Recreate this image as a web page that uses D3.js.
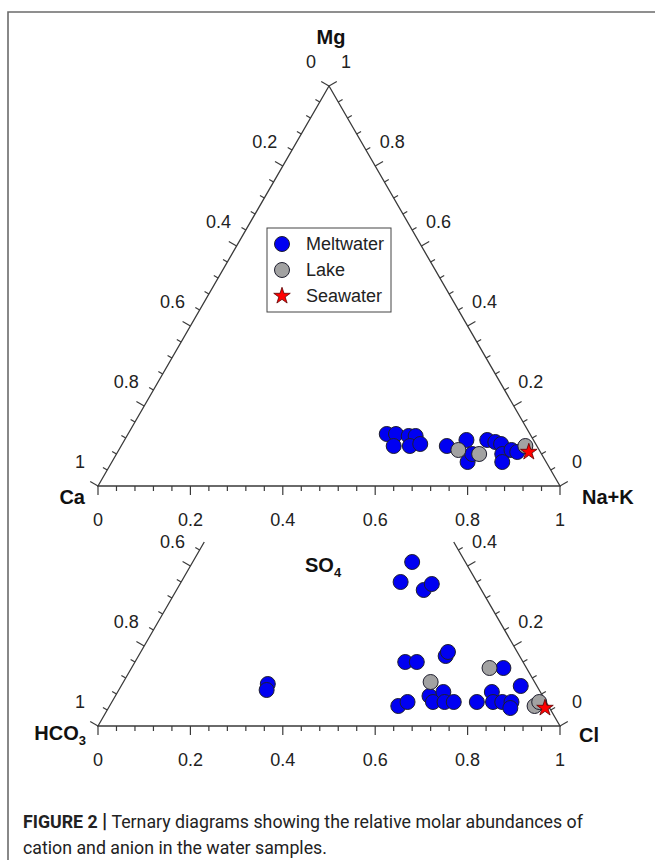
<!DOCTYPE html>
<html lang="en">
<head>
    <meta charset="UTF-8">
    <title>Ternary diagrams</title>
    <script src="https://cdnjs.cloudflare.com/ajax/libs/d3/7.8.5/d3.min.js"></script>
    <style>
        body { margin: 0; background: #fff; }
        svg { display: block; font-family: Arial, "Liberation Sans", sans-serif; }
        .tick-label { font-size: 18px; fill: #222; }
        .vertex { font-size: 20px; font-weight: bold; fill: #111; }
        .legend-text { font-size: 18px; fill: #222; }
    </style>
</head>
<body>
<script>
    // cation samples as [Ca, Mg, Na+K]
    const cationMeltwater = [
        [0.31, 0.13, 0.56], [0.29, 0.13, 0.58], [0.265, 0.125, 0.61], [0.25, 0.125, 0.625],
        [0.31, 0.10, 0.59], [0.275, 0.10, 0.625], [0.25, 0.105, 0.645], [0.195, 0.10, 0.705],
        [0.145, 0.115, 0.74], [0.17, 0.06, 0.77], [0.15, 0.08, 0.77], [0.10, 0.115, 0.785],
        [0.085, 0.11, 0.805], [0.075, 0.105, 0.82], [0.085, 0.08, 0.835], [0.095, 0.06, 0.845],
        [0.06, 0.09, 0.85], [0.05, 0.085, 0.865]
    ];
    const cationLake = [[0.175, 0.09, 0.735], [0.135, 0.08, 0.785], [0.025, 0.10, 0.875]];
    const cationSeawater = [[0.025, 0.085, 0.89]];

    // anion samples as [HCO3, SO4, Cl]
    const anionMeltwater = [
        [0.115, 0.41, 0.475], [0.165, 0.36, 0.475], [0.125, 0.34, 0.535], [0.10, 0.355, 0.545],
        [0.255, 0.16, 0.585], [0.23, 0.16, 0.61], [0.16, 0.175, 0.665], [0.15, 0.185, 0.665],
        [0.05, 0.145, 0.805], [0.035, 0.10, 0.865], [0.325, 0.05, 0.625], [0.30, 0.06, 0.64],
        [0.245, 0.075, 0.68], [0.245, 0.06, 0.695], [0.21, 0.085, 0.705], [0.22, 0.06, 0.72],
        [0.20, 0.06, 0.74], [0.15, 0.06, 0.79], [0.105, 0.085, 0.81], [0.115, 0.06, 0.825],
        [0.095, 0.06, 0.845], [0.075, 0.06, 0.865], [0.085, 0.045, 0.87],
        [0.58, 0.105, 0.315], [0.59, 0.09, 0.32]
    ];
    const anionLake = [[0.08, 0.145, 0.775], [0.225, 0.11, 0.665], [0.03, 0.05, 0.92], [0.015, 0.06, 0.925]];
    const anionSeawater = [[0.01, 0.045, 0.945]];

    const tickValues = d3.range(0, 1.0001, 0.04);
    const majorValues = [0, 0.2, 0.4, 0.6, 0.8, 1];
    const legendNames = ["Meltwater", "Lake", "Seawater"];

    const W = 655, H = 860;
    const svg = d3.select("body").append("svg").attr("width", W).attr("height", H);

    // frame
    svg.append("path").attr("d", `M8,${H} L8,12 L${W},12`)
        .attr("fill", "none").attr("stroke", "#6b6b6b").attr("stroke-width", 1.6);

    const star = d3.symbol().type(d3.symbolStar).size(85);
    const fmt = v => v === 0 ? "0" : v === 1 ? "1" : d3.format(".1f")(v);
    const isMajor = v => majorValues.some(m => Math.abs(m - v) < 1e-6);

    function ternary(base, maxTop) {
        const x = d3.scaleLinear().domain([0, 1]).range([98, 560]);
        const y = d3.scaleLinear().domain([0, 1]).range([base, base - 400]);
        const proj = (right, top) => [x(right + top / 2), y(top)];
        const g = svg.append("g");

        const line = d3.line();
        // sides
        g.append("path").attr("d", line([proj(0, maxTop), proj(0, 0), proj(1, 0), proj(1 - maxTop, maxTop)]))
            .attr("fill", "none").attr("stroke", "#3a3a3a").attr("stroke-width", 1.3);

        const sides = [
            // left side: value = left component, top = 1 - v
            { pt: v => proj(0, 1 - v), n: [-0.866, -0.5], off: [-18, -24], keep: v => 1 - v <= maxTop + 1e-6 },
            // right side: value = top component
            { pt: v => proj(1 - v, v), n: [0.866, -0.5], off: [17, -24], keep: v => v <= maxTop + 1e-6 },
            // bottom: value = right component
            { pt: v => proj(v, 0), n: [0, 1], off: [0, 34], keep: () => true }
        ];
        sides.forEach(s => {
            const vals = tickValues.filter(s.keep);
            g.append("g").selectAll("line").data(vals).join("line")
                .attr("x1", d => s.pt(d)[0]).attr("y1", d => s.pt(d)[1])
                .attr("x2", d => s.pt(d)[0] + s.n[0] * (isMajor(d) ? 9 : 5))
                .attr("y2", d => s.pt(d)[1] + s.n[1] * (isMajor(d) ? 9 : 5))
                .attr("stroke", "#3a3a3a").attr("stroke-width", 1.2);
            g.append("g").selectAll("text").data(majorValues.filter(s.keep)).join("text")
                .attr("class", "tick-label")
                .attr("x", d => s.pt(d)[0] + s.off[0]).attr("y", d => s.pt(d)[1] + s.off[1])
                .attr("text-anchor", "middle").attr("dominant-baseline", "central")
                .text(fmt);
        });

        g.draw = (rows, kind) => {
            const pts = rows.map(r => proj(r[2], r[1]));
            if (kind === "star") {
                g.append("g").selectAll("path").data(pts).join("path")
                    .attr("d", star).attr("transform", d => `translate(${d[0]},${d[1]})`)
                    .attr("fill", "#ff0000").attr("stroke", "#5a0000").attr("stroke-width", 0.8);
            } else {
                g.append("g").selectAll("circle").data(pts).join("circle")
                    .attr("cx", d => d[0]).attr("cy", d => d[1]).attr("r", 7.5)
                    .attr("fill", kind === "blue" ? "#0000f2" : "#a2a2a2")
                    .attr("stroke", "#1e1e2e").attr("stroke-width", 1);
            }
        };
        return g;
    }

    // cation diagram
    const cationPlot = ternary(486, 1);
    cationPlot.draw(cationMeltwater, "blue");
    cationPlot.draw(cationLake, "gray");
    cationPlot.draw(cationSeawater, "star");
    cationPlot.append("text").attr("class", "vertex").attr("x", 331).attr("y", 37)
        .attr("text-anchor", "middle").attr("dominant-baseline", "central").text("Mg");
    cationPlot.append("text").attr("class", "vertex").attr("x", 85).attr("y", 497)
        .attr("text-anchor", "end").attr("dominant-baseline", "central").text("Ca");
    cationPlot.append("text").attr("class", "vertex").attr("x", 582).attr("y", 497)
        .attr("dominant-baseline", "central").text("Na+K");

    // legend
    const lg = svg.append("g");
    lg.append("rect").attr("x", 267).attr("y", 228).attr("width", 124).attr("height", 84)
        .attr("fill", "#fff").attr("stroke", "#444").attr("stroke-width", 1);
    const ly = d3.scalePoint().domain(legendNames).range([244, 296]);
    legendNames.forEach((name, i) => {
        if (i === 2) {
            lg.append("path").attr("d", star).attr("transform", `translate(282,${ly(name)})`)
                .attr("fill", "#ff0000").attr("stroke", "#5a0000").attr("stroke-width", 0.8);
        } else {
            lg.append("circle").attr("cx", 282).attr("cy", ly(name)).attr("r", 7.5)
                .attr("fill", i === 0 ? "#0000f2" : "#a2a2a2").attr("stroke", "#1e1e2e");
        }
        lg.append("text").attr("class", "legend-text").attr("x", 306).attr("y", ly(name))
            .attr("dominant-baseline", "central").text(name);
    });

    // anion diagram (upper part cut off)
    const anionPlot = ternary(726, 0.46);
    anionPlot.draw(anionMeltwater, "blue");
    anionPlot.draw(anionLake, "gray");
    anionPlot.draw(anionSeawater, "star");
    const so4 = anionPlot.append("text").attr("class", "vertex").attr("x", 305).attr("y", 572);
    so4.append("tspan").text("SO");
    so4.append("tspan").attr("font-size", 13).attr("dy", 5).text("4");
    const hco3 = anionPlot.append("text").attr("class", "vertex").attr("x", 86).attr("y", 740)
        .attr("text-anchor", "end");
    hco3.append("tspan").text("HCO");
    hco3.append("tspan").attr("font-size", 13).attr("dy", 5).text("3");
    anionPlot.append("text").attr("class", "vertex").attr("x", 579).attr("y", 735)
        .attr("dominant-baseline", "central").text("Cl");

    // caption
    const cap = svg.append("g").attr("font-family", "Roboto, Arial, sans-serif").attr("font-size", 18).attr("fill", "#222");
    const l1 = cap.append("text");
    l1.append("tspan").attr("font-weight", "bold").text("FIGURE 2 ");
    l1.append("tspan").attr("font-weight", "bold").attr("font-size", 21).text("|");
    l1.append("tspan").text(" Ternary diagrams showing the relative molar abundances of");
    const l2 = cap.append("text").text("cation and anion in the water samples.");
    const k = 560 / l1.node().getComputedTextLength();
    l1.attr("transform", `translate(23,828) scale(${k},1)`);
    l2.attr("transform", `translate(23,854) scale(${k},1)`);
</script>
</body>
</html>
